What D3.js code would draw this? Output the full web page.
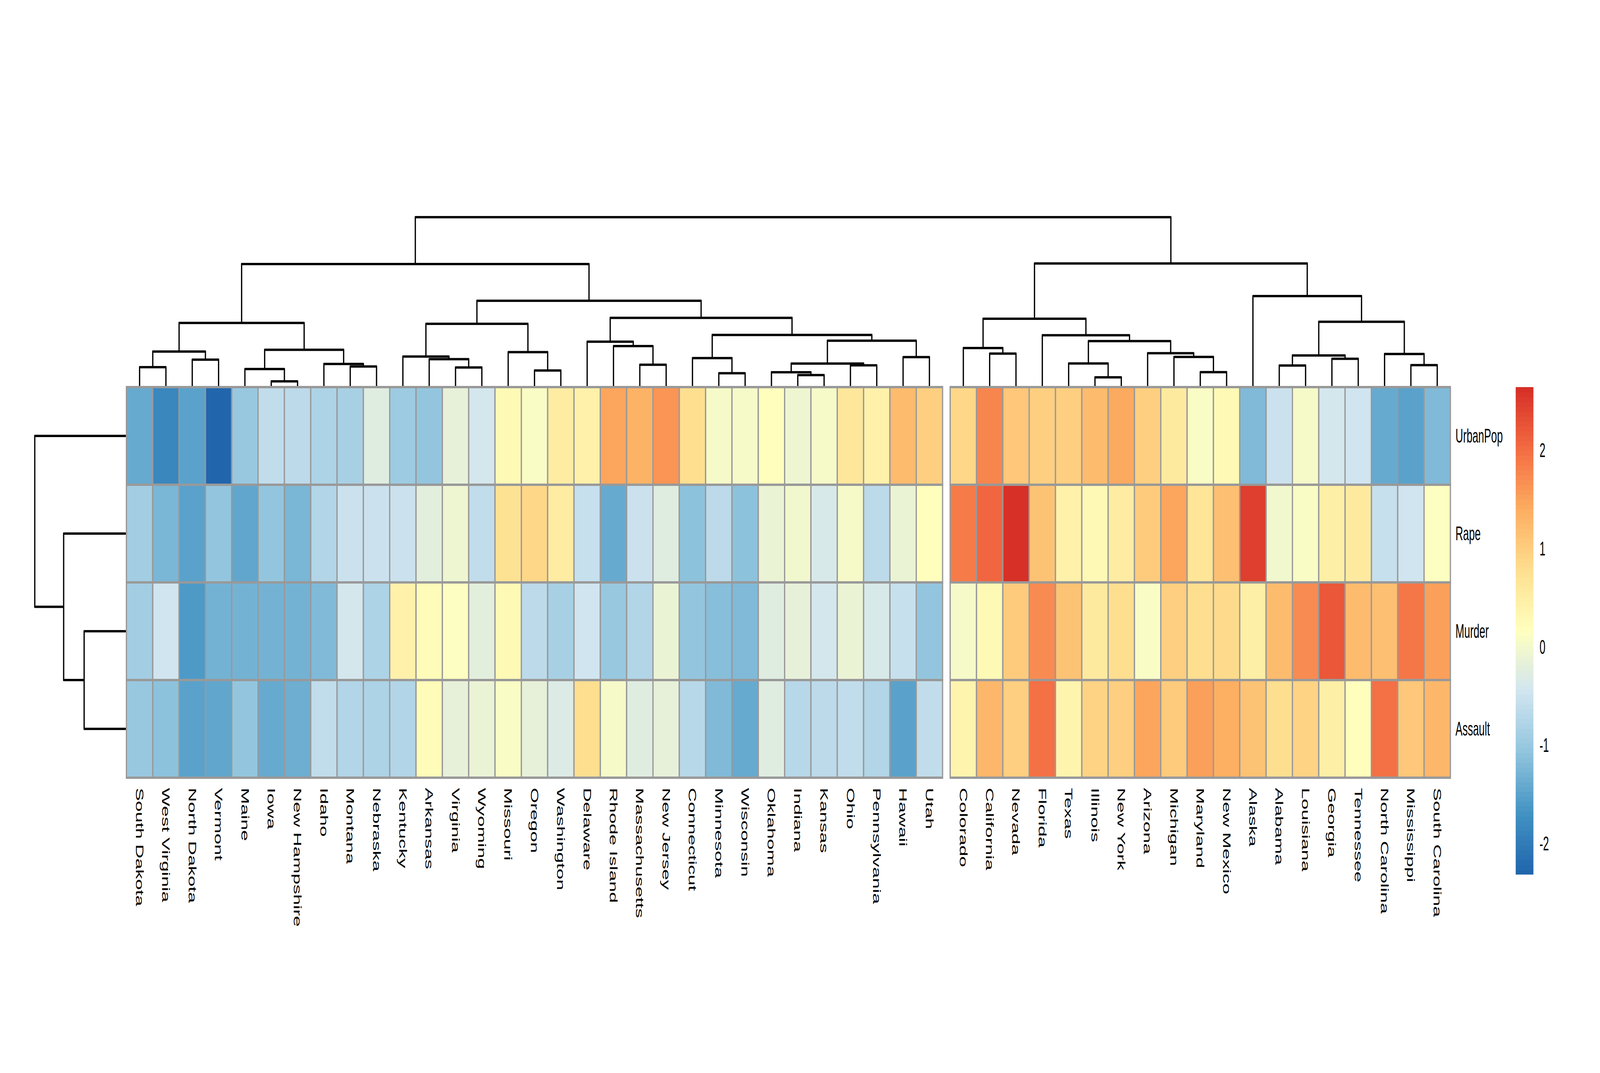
<!DOCTYPE html>
<html>
<head>
<meta charset="utf-8">
<script src="https://cdn.jsdelivr.net/npm/d3@7"></script>
<style>
  html, body { margin: 0; padding: 0; background: #ffffff; overflow: hidden; }
  svg { display: block; }
  svg text { font-family: "Liberation Sans", Arial, Helvetica, sans-serif; fill: #000; }
</style>
</head>
<body>
<svg id="heatmap" viewBox="0 0 7593 2747" preserveAspectRatio="none"
     style="width:100vw;height:100vh"></svg>
<script>
// scaled USArrests values (z-scores), columns in the order shown in the picture
const states = [
  "South Dakota", "West Virginia", "North Dakota", "Vermont", "Maine", "Iowa",
  "New Hampshire", "Idaho", "Montana", "Nebraska", "Kentucky", "Arkansas",
  "Virginia", "Wyoming", "Missouri", "Oregon", "Washington", "Delaware",
  "Rhode Island", "Massachusetts", "New Jersey", "Connecticut", "Minnesota",
  "Wisconsin", "Oklahoma", "Indiana", "Kansas", "Ohio", "Pennsylvania",
  "Hawaii", "Utah", "Colorado", "California", "Nevada", "Florida", "Texas",
  "Illinois", "New York", "Arizona", "Michigan", "Maryland", "New Mexico",
  "Alaska", "Alabama", "Louisiana", "Georgia", "Tennessee", "North Carolina",
  "Mississippi", "South Carolina"
];

const murder = [
  -0.916, -0.479, -1.604, -1.283, -1.306, -1.283, -1.306, -1.191, -0.411, -0.801,
  0.439, 0.232, 0.163, -0.227, 0.278, -0.663, -0.870, -0.433, -1.007, -0.778,
  -0.089, -1.030, -1.168, -1.191, -0.273, -0.135, -0.411, -0.112, -0.342, -0.571,
  -1.053, 0.026, 0.278, 1.013, 1.748, 1.128, 0.600, 0.760, 0.072, 0.990,
  0.806, 0.829, 0.508, 1.243, 1.748, 2.207, 1.243, 1.197, 1.908, 1.518
];

const assault = [
  -1.017, -1.077, -1.509, -1.473, -1.053, -1.377, -1.365, -0.609, -0.741, -0.825,
  -0.741, 0.231, -0.177, -0.117, 0.087, -0.141, -0.309, 0.807, 0.039, -0.261,
  -0.141, -0.729, -1.185, -1.413, -0.237, -0.693, -0.669, -0.609, -0.777, -1.497,
  -0.609, 0.399, 1.263, 0.975, 1.971, 0.363, 0.939, 0.999, 1.479, 1.011,
  1.551, 1.371, 1.107, 0.783, 0.939, 0.483, 0.207, 1.995, 1.059, 1.299
];

const urbanPop = [
  -1.419, -1.834, -1.488, -2.317, -1.005, -0.590, -0.659, -0.797, -0.866, -0.245,
  -0.935, -1.074, -0.175, -0.383, 0.308, 0.101, 0.515, 0.446, 1.483, 1.344,
  1.621, 0.792, 0.032, 0.032, 0.170, -0.037, 0.032, 0.654, 0.446, 1.206,
  0.999, 0.861, 1.759, 1.068, 0.999, 0.999, 1.206, 1.413, 0.999, 0.584,
  0.101, 0.308, -1.212, -0.521, 0.032, -0.383, -0.452, -1.419, -1.488, -1.212
];

const rape = [
  -0.900, -1.274, -1.487, -1.071, -1.434, -1.060, -1.253, -0.751, -0.516, -0.505,
  -0.527, -0.185, -0.057, -0.601, 0.744, 0.861, 0.530, -0.580, -1.381, -0.527,
  -0.260, -1.082, -0.676, -1.114, -0.132, -0.025, -0.345, 0.018, -0.676, -0.110,
  0.178, 1.865, 2.068, 2.644, 1.139, 0.456, 0.296, 0.520, 1.043, 1.481,
  0.701, 1.160, 2.484, -0.003, 0.103, 0.488, 0.605, -0.548, -0.441, 0.135
];

const variables = ["UrbanPop", "Rape", "Murder", "Assault"];
const rowValues = [urbanPop, rape, murder, assault];
const legendTicks = [2, 1, 0, -1, -2];
const palette = ["#2166AC", "#4393C3", "#92C5DE", "#D1E5F0", "#FFFFBF",
                 "#FEE090", "#FDAE61", "#F46D43", "#D73027"];

// layout
const svg = d3.select("svg#heatmap");
const heatLeft = 600, heatRight = 6883, heatTop = 991, heatBottom = 1991;
const gap = 36;
const colTreeTop = 556, rowTreeLeft = 165;
const legendLeft = 7193, legendWidth = 84, legendTop = 991, legendBottom = 2239;
const fontSize = 50;
const borderColor = "#999999";

// complete linkage clustering (euclidean), like hclust
function completeLinkage(vectors) {
  const dist = (a, b) => Math.sqrt(d3.sum(a, (v, k) => (v - b[k]) ** 2));
  const d = vectors.map((a) => vectors.map((b) => dist(a, b)));
  let clusters = vectors.map((v, i) => ({ leaves: [i], height: 0, leaf: i }));
  const merges = [];
  while (clusters.length > 1) {
    let best = null;
    for (let i = 0; i < clusters.length; i++) {
      for (let j = i + 1; j < clusters.length; j++) {
        const h = d3.max(clusters[i].leaves, (a) =>
          d3.max(clusters[j].leaves, (b) => d[a][b])
        );
        if (!best || h < best.h) best = { i, j, h };
      }
    }
    const node = {
      children: [clusters[best.i], clusters[best.j]],
      leaves: clusters[best.i].leaves.concat(clusters[best.j].leaves),
      height: best.h,
    };
    merges.push(node);
    clusters = clusters.filter((c, k) => k !== best.i && k !== best.j);
    clusters.push(node);
  }
  return { root: clusters[0], merges };
}

const colTree = completeLinkage(
  states.map((s, i) => [murder[i], assault[i], urbanPop[i], rape[i]])
);
const rowTree = completeLinkage(rowValues);

// cutree k = 2 -> gap after the first cluster
const gapAfter = d3.min(colTree.root.children, (c) => d3.max(c.leaves)) + 1;

// scales
const xBand = d3.scaleBand().domain(states).range([heatLeft, heatRight - gap]);
const cellW = xBand.bandwidth();
const colX = (j) => xBand(states[j]) + (j >= gapAfter ? gap : 0);
const yBand = d3.scaleBand().domain(variables).range([heatTop, heatBottom]);
const cellH = yBand.bandwidth();

const allValues = rowValues.flat();
const vMin = d3.min(allValues), vMax = d3.max(allValues);
const ramp = d3
  .scaleLinear()
  .domain(palette.map((c, i) => i / (palette.length - 1)))
  .range(palette)
  .interpolate(d3.interpolateRgb);
const colors100 = d3.range(100).map((i) => ramp(i / 99));
const color = d3.scaleQuantize().domain([vMin, vMax]).range(colors100);

const lineGen = d3.line();

//column dendrogram
const colHeight = d3
  .scaleLinear()
  .domain([0, colTree.root.height])
  .range([heatTop, colTreeTop]);
const colPos = (node) =>
  node.children
    ? (colPos(node.children[0]) + colPos(node.children[1])) / 2
    : colX(node.leaf) + cellW / 2;

svg
  .append("g")
  .attr("class", "col-dendrogram")
  .selectAll("path")
  .data(colTree.merges)
  .join("path")
  .attr("fill", "none")
  .attr("stroke", "black")
  .attr("stroke-width", 6)
  .attr("stroke-linejoin", "round")
  .attr("d", (m) => {
    const [a, b] = m.children;
    const x1 = colPos(a), x2 = colPos(b);
    return lineGen([
      [x1, colHeight(a.height)],
      [x1, colHeight(m.height)],
      [x2, colHeight(m.height)],
      [x2, colHeight(b.height)],
    ]);
  });

//row dendrogram
const rowHeight = d3
  .scaleLinear()
  .domain([0, rowTree.root.height])
  .range([heatLeft, rowTreeLeft]);
const rowPos = (node) =>
  node.children
    ? (rowPos(node.children[0]) + rowPos(node.children[1])) / 2
    : yBand(variables[node.leaf]) + cellH / 2;

svg
  .append("g")
  .attr("class", "row-dendrogram")
  .selectAll("path")
  .data(rowTree.merges)
  .join("path")
  .attr("fill", "none")
  .attr("stroke", "black")
  .attr("stroke-width", 6)
  .attr("stroke-linejoin", "round")
  .attr("d", (m) => {
    const [a, b] = m.children;
    const y1 = rowPos(a), y2 = rowPos(b);
    return lineGen([
      [rowHeight(a.height), y1],
      [rowHeight(m.height), y1],
      [rowHeight(m.height), y2],
      [rowHeight(b.height), y2],
    ]);
  });

//cells
const cells = [];
variables.forEach((v, r) => {
  states.forEach((s, j) => cells.push({ v, j, value: rowValues[r][j] }));
});

svg
  .append("g")
  .attr("class", "cells")
  .selectAll("rect")
  .data(cells)
  .join("rect")
  .attr("x", (d) => colX(d.j))
  .attr("y", (d) => yBand(d.v))
  .attr("width", cellW)
  .attr("height", cellH)
  .attr("fill", (d) => color(d.value))
  .attr("stroke", borderColor)
  .attr("stroke-width", 6);

// row labels
svg
  .append("g")
  .attr("class", "row-labels")
  .selectAll("text")
  .data(variables)
  .join("text")
  .attr("x", heatRight + 24)
  .attr("y", (d) => yBand(d) + cellH / 2)
  .attr("dy", "0.35em")
  .attr("font-size", fontSize)
  .text((d) => d);

// column labels, turned to read downwards
svg
  .append("g")
  .attr("class", "col-labels")
  .selectAll("text")
  .data(states)
  .join("text")
  .attr("transform", (d, j) =>
    `translate(${colX(j) + cellW / 2},${heatBottom + 26}) rotate(90)`
  )
  .attr("dy", "0.35em")
  .attr("text-anchor", "start")
  .attr("font-size", fontSize)
  .text((d) => d);

//legend
const legendY = d3
  .scaleLinear()
  .domain([vMin, vMax])
  .range([legendBottom, legendTop]);
const step = (vMax - vMin) / colors100.length;

const legend = svg.append("g").attr("class", "legend");
legend
  .selectAll("rect")
  .data(colors100)
  .join("rect")
  .attr("x", legendLeft)
  .attr("width", legendWidth)
  .attr("y", (c, i) => legendY(vMin + (i + 1) * step))
  .attr("height", (c, i) =>
    legendY(vMin + i * step) - legendY(vMin + (i + 1) * step) + (i > 0 ? 1 : 0)
  )
  .attr("fill", (c) => c);

legend
  .selectAll("text")
  .data(legendTicks)
  .join("text")
  .attr("x", legendLeft + legendWidth + 29)
  .attr("y", (d) => legendY(d))
  .attr("dy", "0.35em")
  .attr("font-size", fontSize)
  .text((d) => d);
</script>
</body>
</html>
